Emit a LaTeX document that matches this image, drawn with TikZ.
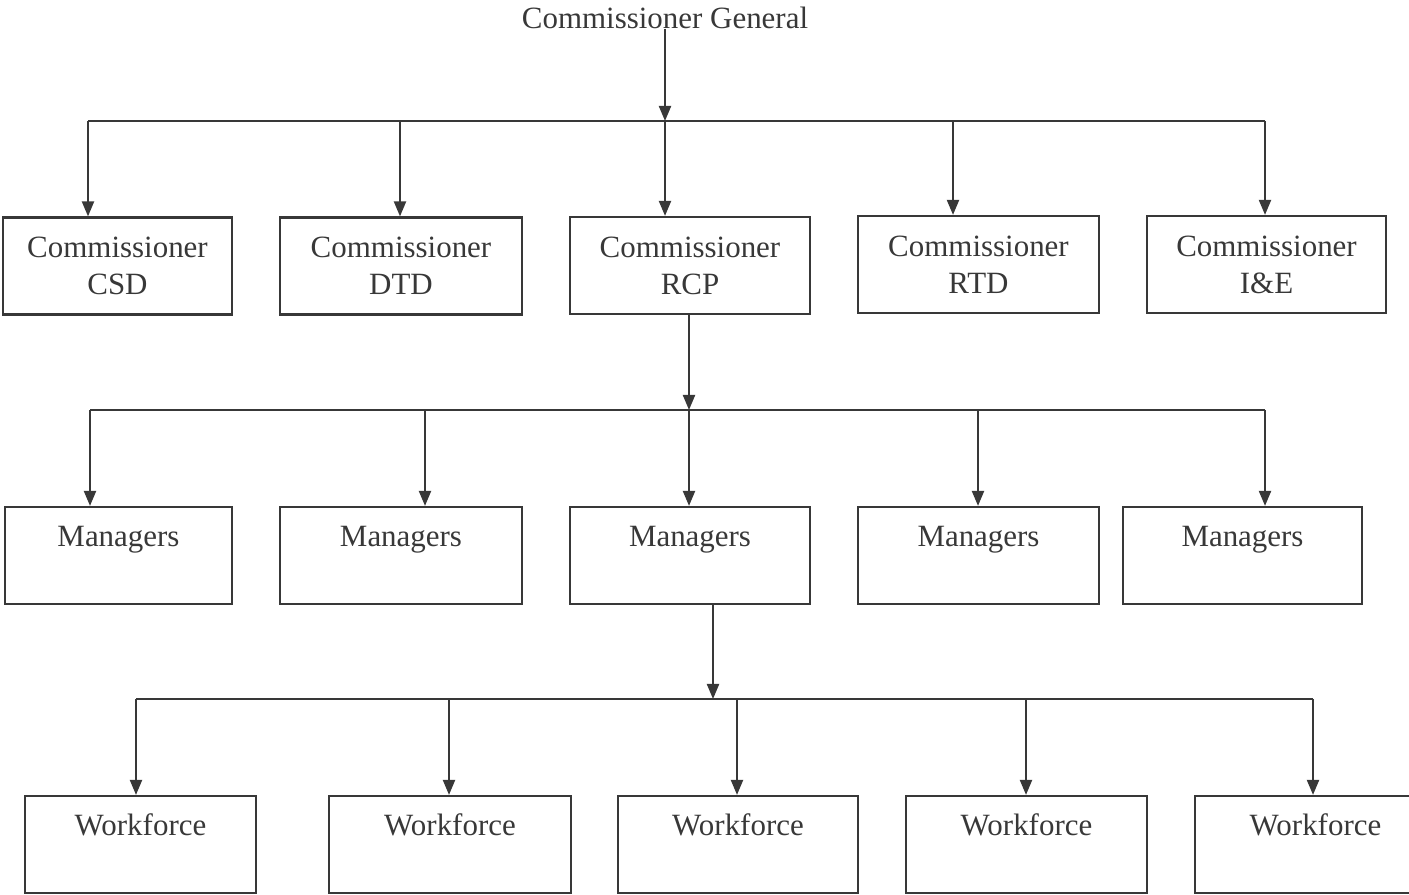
\documentclass[tikz,border=0pt]{standalone}
\usepackage{fontspec}
\setmainfont{Liberation Serif}
\usetikzlibrary{arrows.meta}
\tikzset{
  unit/.style={draw, minimum width=2.41cm, minimum height=0.97cm, inner sep=0pt, align=center},
  staff/.style={unit, text height=11.3pt, text depth=16.2pt},
}
\begin{document}
\begin{tikzpicture}[x=0.01cm, y=-0.01cm, >={Triangle[length=1.5mm, width=1.2mm]}, line width=0.6pt, color=black!78, font=\fontsize{8.8}{10.5}\selectfont]
\useasboundingbox (0, 0) rectangle (1409, 895);
\clip (0, 0) rectangle (1409, 895);
\node(CG) at (665, 18) {Commissioner General};
\node[unit, minimum width=2.29cm](CSD) at (117.5, 266) {Commissioner\\CSD};
\node[unit, minimum width=2.42cm](DTD) at (401, 266) {Commissioner\\DTD};
\node[unit, minimum width=2.40cm](RCP) at (690, 265.5) {Commissioner\\RCP};
\node[unit](RTD) at (978.5, 264.5) {Commissioner\\RTD};
\node[unit, minimum width=2.39cm](IE) at (1266.5, 264.5) {Commissioner\\I\&E};
\node[staff, minimum width=2.27cm](M1) at (118.5, 555.5) {Managers};
\node[staff, minimum width=2.42cm](M2) at (401, 555.5) {Managers};
\node[staff, minimum width=2.40cm](M3) at (690, 555.5) {Managers};
\node[staff](M4) at (978.5, 555.5) {Managers};
\node[staff, minimum width=2.39cm](M5) at (1242.5, 555.5) {Managers};
\node[staff, minimum width=2.31cm](W1) at (140.5, 844.5) {Workforce};
\node[staff, minimum width=2.42cm](W2) at (450, 844.5) {Workforce};
\node[staff, minimum width=2.40cm](W3) at (738, 844.5) {Workforce};
\node[staff](W4) at (1026.5, 844.5) {Workforce};
\node[staff](W5) at (1315.5, 844.5) {Workforce};
% commissioners
\coordinate(a1) at (88, 121);
\coordinate(a2) at (400, 121);
\coordinate(a3) at (665, 121);
\coordinate(a4) at (953, 121);
\coordinate(a5) at (1265, 121);
\draw (a1) -- (a5);
\path[->]
(CG.base) edge (a3)
(a1) edge (a1 |- CSD.north)
(a2) edge (a2 |- DTD.north)
(a3) edge (a3 |- RCP.north)
(a4) edge (a4 |- RTD.north)
(a5) edge (a5 |- IE.north);
% managers
\coordinate(b1) at (90, 410);
\coordinate(b2) at (425, 410);
\coordinate(b3) at (689, 410);
\coordinate(b4) at (978, 410);
\coordinate(b5) at (1265, 410);
\draw (b1) -- (b5);
\path[->]
(b3 |- RCP.south) edge (b3)
(b1) edge (b1 |- M1.north)
(b2) edge (b2 |- M2.north)
(b3) edge (b3 |- M3.north)
(b4) edge (b4 |- M4.north)
(b5) edge (b5 |- M5.north);
% workforce
\coordinate(c0) at (713, 699);
\coordinate(c1) at (136, 699);
\coordinate(c2) at (449, 699);
\coordinate(c3) at (737, 699);
\coordinate(c4) at (1026, 699);
\coordinate(c5) at (1313, 699);
\draw (c1) -- (c5);
\path[->]
(c0 |- M3.south) edge (c0)
(c1) edge (c1 |- W1.north)
(c2) edge (c2 |- W2.north)
(c3) edge (c3 |- W3.north)
(c4) edge (c4 |- W4.north)
(c5) edge (c5 |- W5.north);
\end{tikzpicture}
\end{document}
